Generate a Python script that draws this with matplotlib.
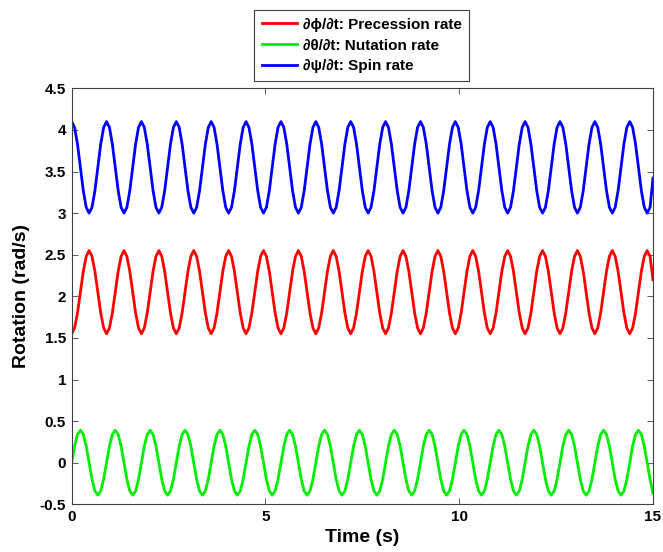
#!/usr/bin/env python3
"""
plot.py — rotation rates of the top (precession / nutation / spin) vs time.

Values read off the reference figure, sampled every 0.075 s over 0..15 s.
MATLAB-like look: boxed axes, inward ticks, bold Helvetica-ish text,
legend parked above the axes.
"""
import numpy as np
import matplotlib

matplotlib.use("Agg")
import matplotlib.pyplot as plt

# sample grid (s), one reading every 0.075 s
TIME = np.linspace(0, 15, 201)

PRECESSION = [
    1.55, 1.62, 1.80, 2.05, 2.30, 2.48, 2.55, 2.48, 2.30, 2.05, 1.80, 1.62,
    1.55, 1.62, 1.80, 2.05, 2.30, 2.48, 2.55, 2.48, 2.30, 2.05, 1.80, 1.62,
    1.55, 1.62, 1.80, 2.05, 2.30, 2.48, 2.55, 2.48, 2.30, 2.05, 1.80, 1.62,
    1.55, 1.62, 1.80, 2.05, 2.30, 2.48, 2.55, 2.48, 2.30, 2.05, 1.80, 1.62,
    1.55, 1.62, 1.80, 2.05, 2.30, 2.48, 2.55, 2.48, 2.30, 2.05, 1.80, 1.62,
    1.55, 1.62, 1.80, 2.05, 2.30, 2.48, 2.55, 2.48, 2.30, 2.05, 1.80, 1.62,
    1.55, 1.62, 1.80, 2.05, 2.30, 2.48, 2.55, 2.48, 2.30, 2.05, 1.80, 1.62,
    1.55, 1.62, 1.80, 2.05, 2.30, 2.48, 2.55, 2.48, 2.30, 2.05, 1.80, 1.62,
    1.55, 1.62, 1.80, 2.05, 2.30, 2.48, 2.55, 2.48, 2.30, 2.05, 1.80, 1.62,
    1.55, 1.62, 1.80, 2.05, 2.30, 2.48, 2.55, 2.48, 2.30, 2.05, 1.80, 1.62,
    1.55, 1.62, 1.80, 2.05, 2.30, 2.48, 2.55, 2.48, 2.30, 2.05, 1.80, 1.62,
    1.55, 1.62, 1.80, 2.05, 2.30, 2.48, 2.55, 2.48, 2.30, 2.05, 1.80, 1.62,
    1.55, 1.62, 1.80, 2.05, 2.30, 2.48, 2.55, 2.48, 2.30, 2.05, 1.80, 1.62,
    1.55, 1.62, 1.80, 2.05, 2.30, 2.48, 2.55, 2.48, 2.30, 2.05, 1.80, 1.62,
    1.55, 1.62, 1.80, 2.05, 2.30, 2.48, 2.55, 2.48, 2.30, 2.05, 1.80, 1.62,
    1.55, 1.62, 1.80, 2.05, 2.30, 2.48, 2.55, 2.48, 2.30, 2.05, 1.80, 1.62,
    1.55, 1.62, 1.80, 2.05, 2.30, 2.48, 2.55, 2.48, 2.20,
]

NUTATION = [
    0.00, 0.20, 0.34, 0.39, 0.34, 0.20, 0.00, -0.20, -0.34, -0.39, -0.34, -0.20,
    0.00, 0.20, 0.34, 0.39, 0.34, 0.20, 0.00, -0.20, -0.34, -0.39, -0.34, -0.20,
    0.00, 0.20, 0.34, 0.39, 0.34, 0.20, 0.00, -0.20, -0.34, -0.39, -0.34, -0.20,
    0.00, 0.20, 0.34, 0.39, 0.34, 0.20, 0.00, -0.20, -0.34, -0.39, -0.34, -0.20,
    0.00, 0.20, 0.34, 0.39, 0.34, 0.20, 0.00, -0.20, -0.34, -0.39, -0.34, -0.20,
    0.00, 0.20, 0.34, 0.39, 0.34, 0.20, 0.00, -0.20, -0.34, -0.39, -0.34, -0.20,
    0.00, 0.20, 0.34, 0.39, 0.34, 0.20, 0.00, -0.20, -0.34, -0.39, -0.34, -0.20,
    0.00, 0.20, 0.34, 0.39, 0.34, 0.20, 0.00, -0.20, -0.34, -0.39, -0.34, -0.20,
    0.00, 0.20, 0.34, 0.39, 0.34, 0.20, 0.00, -0.20, -0.34, -0.39, -0.34, -0.20,
    0.00, 0.20, 0.34, 0.39, 0.34, 0.20, 0.00, -0.20, -0.34, -0.39, -0.34, -0.20,
    0.00, 0.20, 0.34, 0.39, 0.34, 0.20, 0.00, -0.20, -0.34, -0.39, -0.34, -0.20,
    0.00, 0.20, 0.34, 0.39, 0.34, 0.20, 0.00, -0.20, -0.34, -0.39, -0.34, -0.20,
    0.00, 0.20, 0.34, 0.39, 0.34, 0.20, 0.00, -0.20, -0.34, -0.39, -0.34, -0.20,
    0.00, 0.20, 0.34, 0.39, 0.34, 0.20, 0.00, -0.20, -0.34, -0.39, -0.34, -0.20,
    0.00, 0.20, 0.34, 0.39, 0.34, 0.20, 0.00, -0.20, -0.34, -0.39, -0.34, -0.20,
    0.00, 0.20, 0.34, 0.39, 0.34, 0.20, 0.00, -0.20, -0.34, -0.39, -0.34, -0.20,
    0.00, 0.20, 0.34, 0.39, 0.34, 0.20, 0.00, -0.20, -0.37,
]

SPIN = [
    4.10, 4.03, 3.83, 3.55, 3.27, 3.07, 3.00, 3.07, 3.27, 3.55, 3.83, 4.03,
    4.10, 4.03, 3.83, 3.55, 3.27, 3.07, 3.00, 3.07, 3.27, 3.55, 3.83, 4.03,
    4.10, 4.03, 3.83, 3.55, 3.27, 3.07, 3.00, 3.07, 3.27, 3.55, 3.83, 4.03,
    4.10, 4.03, 3.83, 3.55, 3.27, 3.07, 3.00, 3.07, 3.27, 3.55, 3.83, 4.03,
    4.10, 4.03, 3.83, 3.55, 3.27, 3.07, 3.00, 3.07, 3.27, 3.55, 3.83, 4.03,
    4.10, 4.03, 3.83, 3.55, 3.27, 3.07, 3.00, 3.07, 3.27, 3.55, 3.83, 4.03,
    4.10, 4.03, 3.83, 3.55, 3.27, 3.07, 3.00, 3.07, 3.27, 3.55, 3.83, 4.03,
    4.10, 4.03, 3.83, 3.55, 3.27, 3.07, 3.00, 3.07, 3.27, 3.55, 3.83, 4.03,
    4.10, 4.03, 3.83, 3.55, 3.27, 3.07, 3.00, 3.07, 3.27, 3.55, 3.83, 4.03,
    4.10, 4.03, 3.83, 3.55, 3.27, 3.07, 3.00, 3.07, 3.27, 3.55, 3.83, 4.03,
    4.10, 4.03, 3.83, 3.55, 3.27, 3.07, 3.00, 3.07, 3.27, 3.55, 3.83, 4.03,
    4.10, 4.03, 3.83, 3.55, 3.27, 3.07, 3.00, 3.07, 3.27, 3.55, 3.83, 4.03,
    4.10, 4.03, 3.83, 3.55, 3.27, 3.07, 3.00, 3.07, 3.27, 3.55, 3.83, 4.03,
    4.10, 4.03, 3.83, 3.55, 3.27, 3.07, 3.00, 3.07, 3.27, 3.55, 3.83, 4.03,
    4.10, 4.03, 3.83, 3.55, 3.27, 3.07, 3.00, 3.07, 3.27, 3.55, 3.83, 4.03,
    4.10, 4.03, 3.83, 3.55, 3.27, 3.07, 3.00, 3.07, 3.27, 3.55, 3.83, 4.03,
    4.10, 4.03, 3.83, 3.55, 3.27, 3.07, 3.00, 3.07, 3.42,
]

LABELS = ["∂ϕ/∂t: Precession rate", "∂θ/∂t: Nutation rate", "∂ψ/∂t: Spin rate"]
COLORS = ["#ff0000", "#00ee00", "#0000ff"]

X_TICKS = [0, 5, 10, 15]
Y_TICKS = [-0.5, 0, 0.5, 1, 1.5, 2, 2.5, 3, 3.5, 4, 4.5]
Y_TICK_LABELS = ["-0.5", "0", "0.5", "1", "1.5", "2", "2.5", "3", "3.5", "4", "4.5"]

AXIS = "#404040"


def main():
    plt.rcParams.update({
        "font.family": ["Liberation Sans", "DejaVu Sans"],
        "font.weight": "bold",
        "font.size": 11,
        "axes.edgecolor": AXIS, "axes.linewidth": 0.8,
        "xtick.color": AXIS, "ytick.color": AXIS,
        "xtick.labelcolor": "black", "ytick.labelcolor": "black",
    })
    fig = plt.figure(figsize=(6.63, 5.52), dpi=100)
    ax = fig.add_axes([0.1081, 0.0864, 0.8768, 0.7536])

    for ys, label, color in zip([PRECESSION, NUTATION, SPIN], LABELS, COLORS):
        ax.plot(TIME, ys, color=color, lw=2.0, label=label)

    ax.set_xlim(0, 15)
    ax.set_ylim(-0.5, 4.5)
    ax.set_xticks(X_TICKS)
    ax.set_yticks(Y_TICKS)
    ax.set_yticklabels(Y_TICK_LABELS)
    ax.tick_params(direction="in", length=4.5, width=0.6, top=True,
                   right=True, labelsize=11, pad=4)
    ax.set_xlabel("Time (s)", fontsize=14, fontweight="bold", labelpad=4)
    ax.set_ylabel("Rotation (rad/s)", fontsize=14, fontweight="bold",
                  labelpad=7)

    leg = fig.legend(loc="upper left", bbox_to_anchor=(254 / 663, 1 - 10 / 552),
                     frameon=True, fancybox=False, framealpha=1,
                     edgecolor=AXIS, fontsize=11, handlelength=2.3,
                     handletextpad=0.4, labelspacing=0.45, borderpad=0.5,
                     borderaxespad=0)
    leg.get_frame().set_linewidth(0.8)

    fig.savefig("out.png", dpi=100)


if __name__ == "__main__":
    main()
